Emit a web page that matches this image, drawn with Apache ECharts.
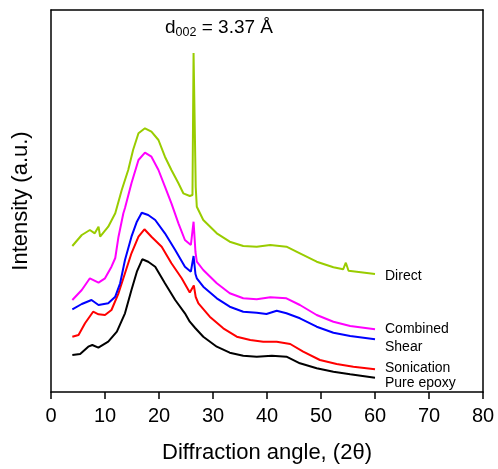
<!DOCTYPE html>
<html>
<head>
<meta charset="utf-8">
<script src="https://cdn.jsdelivr.net/npm/echarts@6/dist/echarts.min.js"></script>
<style>
  html, body { margin: 0; padding: 0; background: #fff; }
  #main { width: 498px; height: 469px; }
</style>
</head>
<body>
<div id="main"></div>
<script>
var chart = echarts.init(document.getElementById('main'))

// XRD patterns, [2theta, intensity (a.u., offset stacked)]
var pureEpoxy = [
  [3.95, 37], [5.4, 38], [6.9, 45.3], [7.65, 47], [8.77, 44.3], [10.6, 50.3], [12.2, 60.3],
  [13.7, 78.7], [14.9, 102], [15.9, 120.3], [16.9, 132.7], [18.0, 130.3], [19.3, 125.3],
  [21.1, 108.7], [23.0, 92], [24.8, 78.7], [25.7, 70.3], [26.7, 64], [28.2, 55.3],
  [30.7, 45.3], [33.1, 39.3], [35.6, 36.3], [38.1, 35.3], [40.9, 36.3], [43.6, 35.3],
  [46.1, 28.7], [49.2, 23.7], [52.3, 20.3], [55.4, 17.7], [60, 14.3]
]
var sonication = [
  [3.95, 55.3], [5.1, 57], [6.3, 68.7], [7.8, 80.3], [8.8, 77.7], [10.0, 77], [11.2, 82],
  [12.5, 98.7], [13.7, 118.7], [14.9, 138.7], [16.2, 155.3], [17.3, 162.7], [18.6, 155.3],
  [20.5, 145.3], [22.3, 128.7], [24.2, 113.7], [25.7, 99.5], [26.45, 106.5], [26.8, 95],
  [27.3, 88.7], [29.4, 75.3], [31.9, 63.7], [34.4, 55.3], [36.9, 52], [39.3, 50.3],
  [41.8, 50.3], [44.3, 48], [46.7, 40.3], [49.8, 32], [52.9, 28], [56.0, 25.3], [60, 22.7]
]
var shear = [
  [3.95, 82.7], [5.7, 88], [7.5, 92], [8.8, 87], [10.6, 88.7], [11.9, 95.3], [12.8, 108.7],
  [13.7, 132], [14.9, 155.3], [15.9, 170.3], [16.8, 179.3], [18.0, 177], [19.3, 172],
  [21.1, 158.7], [23.0, 142], [24.8, 125.3], [25.9, 120.3], [26.4, 136], [26.75, 118],
  [27.0, 113.7], [28.2, 105.3], [30.7, 93.7], [33.1, 85.3], [35.6, 80.3], [38.1, 79.3],
  [39.9, 78], [41.8, 81.3], [43.6, 78.7], [46.1, 73.7], [49.2, 65.3], [52.3, 59.3],
  [55.4, 56], [60, 52.7]
]
var combined = [
  [3.95, 92], [5.7, 102], [7.2, 113.7], [8.8, 109.3], [10.0, 113.7], [11.2, 125.3],
  [11.9, 134], [12.5, 155.3], [13.4, 178.7], [13.7, 184], [14.9, 208.7], [16.2, 232],
  [17.4, 239.3], [18.6, 235.3], [19.9, 222], [21.1, 205.3], [22.3, 188.7], [23.6, 168.7],
  [24.8, 152], [25.9, 147], [26.4, 170.3], [26.75, 140], [27.0, 130.3], [28.2, 122],
  [30.7, 108.7], [33.1, 98.7], [35.6, 93.7], [38.1, 92.7], [40.6, 94.7], [43.6, 93.7],
  [46.1, 87], [49.2, 77], [52.3, 70.3], [55.4, 66], [60, 62.7]
]
var direct = [
  [3.95, 146], [5.7, 157], [7.2, 162], [8.1, 158.7], [8.8, 165.3], [9.1, 155.3],
  [10.6, 165.3], [11.9, 178.7], [13.1, 202], [14.3, 222], [15.2, 242], [16.2, 258.7],
  [17.4, 263.7], [18.6, 260.3], [19.9, 252], [21.1, 235.3], [22.3, 222], [23.6, 208.7],
  [24.5, 198.7], [25.7, 196], [26.2, 197], [26.4, 339], [26.6, 339], [26.8, 205],
  [27.0, 185.3], [28.2, 172], [30.7, 158.7], [33.1, 150.3], [35.6, 146], [38.1, 145.3],
  [40.6, 147], [43.6, 145.3], [46.1, 138.7], [49.2, 130.3], [52.3, 124.7], [54.1, 122.7],
  [54.6, 129.3], [55.1, 121.3], [60, 118]
]

var names = ['Pure epoxy', 'Sonication', 'Shear', 'Combined', 'Direct']
var colors = ['#000000', '#ff0000', '#0000ff', '#ff00ff', '#99cc00']
var labelOffsets = [[0, 5], [0, -1], [0, 8], [0, 0], [0, 2]]
var allData = [pureEpoxy, sonication, shear, combined, direct]

var seriesList = allData.map(function (d, i) {
  return {
    name: names[i],
    type: 'line',
    data: d,
    showSymbol: false,
    animation: false,
    lineStyle: { color: colors[i], width: 2 },
    itemStyle: { color: colors[i] },
    endLabel: {
      show: true,
      formatter: names[i],
      color: '#000',
      fontSize: 14,
      fontFamily: 'Liberation Sans',
      distance: 10,
      offset: labelOffsets[i]
    }
  }
})

var frameLine = { show: true, onZero: false, lineStyle: { color: '#000', width: 1.5 } }

var option = {
  backgroundColor: '#fff',
  grid: { left: 51, right: 15, top: 10, bottom: 77 },
  xAxis: [{
    type: 'value',
    min: 0, max: 80, interval: 10,
    name: 'Diffraction angle, (2θ)',
    nameLocation: 'middle',
    nameGap: 50,
    nameTextStyle: { fontSize: 22, color: '#000', fontFamily: 'Liberation Sans' },
    axisLine: frameLine,
    axisTick: { length: 7, lineStyle: { color: '#000', width: 1.5 } },
    axisLabel: { fontSize: 20, color: '#000', margin: 14, fontFamily: 'Liberation Sans' },
    splitLine: { show: false }
  }, {
    type: 'value', position: 'top',
    min: 0, max: 80,
    axisLine: frameLine,
    axisTick: { show: false },
    axisLabel: { show: false },
    splitLine: { show: false }
  }],
  yAxis: [{
    type: 'value',
    min: 0, max: 382,
    name: 'Intensity (a.u.)',
    nameLocation: 'middle',
    nameGap: 19,
    nameTextStyle: { fontSize: 22, color: '#000', fontFamily: 'Liberation Sans' },
    axisLine: frameLine,
    axisTick: { show: false },
    axisLabel: { show: false },
    splitLine: { show: false }
  }, {
    type: 'value', position: 'right',
    min: 0, max: 382,
    axisLine: frameLine,
    axisTick: { show: false },
    axisLabel: { show: false },
    splitLine: { show: false }
  }],
  graphic: [{
    type: 'text',
    left: 165,
    top: 18,
    style: {
      text: '{a|d}{b|002}{a| = 3.37 Å}',
      fill: '#000',
      rich: {
        a: { fontSize: 19, lineHeight: 24, fontFamily: 'Liberation Sans', fill: '#000' },
        b: { fontSize: 12.5, lineHeight: 24, verticalAlign: 'bottom', fontFamily: 'Liberation Sans', fill: '#000' }
      }
    }
  }],
  series: seriesList
}

chart.setOption(option)
</script>
</body>
</html>
